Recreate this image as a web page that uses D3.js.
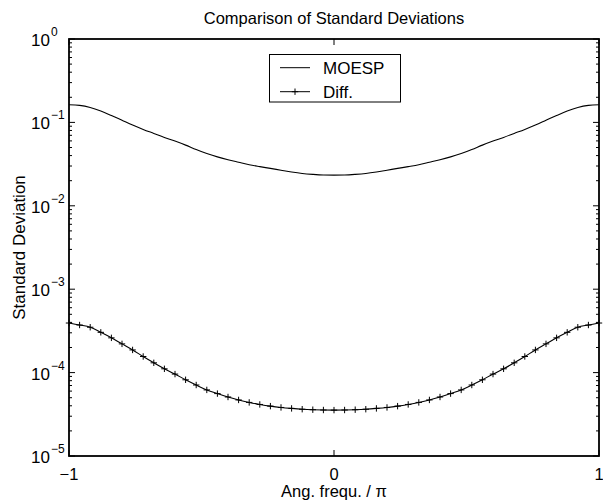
<!DOCTYPE html>
<html>
<head>
<meta charset="utf-8">
<script src="https://cdn.jsdelivr.net/npm/d3@7"></script>
<style>
  body { margin: 0; background: #fff; }
  text { font-family: "Liberation Sans", Arial, sans-serif; fill: #000; }
</style>
</head>
<body>
<div id="chart"></div>
<script>
// angular frequency / pi, 51 samples
const freq = [-1.00, -0.96, -0.92, -0.88, -0.84, -0.80, -0.76, -0.72, -0.68, -0.64,
              -0.60, -0.56, -0.52, -0.48, -0.44, -0.40, -0.36, -0.32, -0.28, -0.24,
              -0.20, -0.16, -0.12, -0.08, -0.04, 0.00, 0.04, 0.08, 0.12, 0.16,
              0.20, 0.24, 0.28, 0.32, 0.36, 0.40, 0.44, 0.48, 0.52, 0.56,
              0.60, 0.64, 0.68, 0.72, 0.76, 0.80, 0.84, 0.88, 0.92, 0.96, 1.00];

// MOESP standard deviation
const moesp = [0.163, 0.160, 0.151, 0.137, 0.121, 0.106, 0.0929, 0.0824, 0.0738, 0.0661,
               0.0597, 0.0534, 0.0472, 0.0424, 0.0386, 0.0357, 0.0333, 0.0311, 0.0295, 0.0281,
               0.0267, 0.0254, 0.0244, 0.0238, 0.0234, 0.0233, 0.0234, 0.0238, 0.0244, 0.0254,
               0.0267, 0.0281, 0.0295, 0.0311, 0.0333, 0.0357, 0.0386, 0.0424, 0.0472, 0.0534,
               0.0597, 0.0661, 0.0738, 0.0824, 0.0929, 0.106, 0.121, 0.137, 0.151, 0.160, 0.163];

// difference
const diff = [3.93e-4, 3.72e-4, 3.50e-4, 3.04e-4, 2.61e-4, 2.21e-4, 1.87e-4, 1.56e-4, 1.31e-4, 1.11e-4,
              9.6e-5, 8.2e-5, 7.1e-5, 6.2e-5, 5.6e-5, 5.1e-5, 4.7e-5, 4.39e-5, 4.15e-5, 3.96e-5,
              3.82e-5, 3.72e-5, 3.64e-5, 3.59e-5, 3.56e-5, 3.55e-5, 3.56e-5, 3.59e-5, 3.64e-5, 3.72e-5,
              3.82e-5, 3.96e-5, 4.15e-5, 4.39e-5, 4.7e-5, 5.1e-5, 5.6e-5, 6.2e-5, 7.1e-5, 8.2e-5,
              9.6e-5, 1.11e-4, 1.31e-4, 1.56e-4, 1.87e-4, 2.21e-4, 2.61e-4, 3.04e-4, 3.50e-4, 3.72e-4, 3.93e-4];

const xTicks = [-1, 0, 1];
const xTickLabels = ["\u22121", "0", "1"];
const yTicks = [1e-5, 1e-4, 1e-3, 1e-2, 1e-1, 1];
const yExponents = ["\u22125", "\u22124", "\u22123", "\u22122", "\u22121", "0"];
const legendNames = ["MOESP", "Diff."];

const width = 603, height = 501;
const margin = {top: 39, right: 4, bottom: 45, left: 69};

const svg = d3.create("svg")
    .attr("width", width)
    .attr("height", height)
    .attr("viewBox", [0, 0, width, height]);

const x = d3.scaleLinear().domain([-1, 1]).range([margin.left, width - margin.right]);
const y = d3.scaleLog().domain([1e-5, 1]).range([height - margin.bottom, margin.top]);

const x0 = x.range()[0], x1 = x.range()[1];
const y0 = y.range()[0], y1 = y.range()[1];

// minor + major ticks on left and right
const ticks = svg.append("g").attr("stroke", "#000").attr("stroke-width", 1);
y.ticks().forEach(t => {
    const major = Math.abs(Math.log10(t) - Math.round(Math.log10(t))) < 1e-9;
    const len = major ? 6 : 3;
    ticks.append("line").attr("x1", x0).attr("x2", x0 + len).attr("y1", y(t)).attr("y2", y(t));
    ticks.append("line").attr("x1", x1).attr("x2", x1 - len).attr("y1", y(t)).attr("y2", y(t));
});
xTicks.forEach(t => {
    ticks.append("line").attr("x1", x(t)).attr("x2", x(t)).attr("y1", y0).attr("y2", y0 - 6);
    ticks.append("line").attr("x1", x(t)).attr("x2", x(t)).attr("y1", y1).attr("y2", y1 + 6);
});

// curves
const line = d3.line()
    .x((d, i) => x(freq[i]))
    .y(d => y(d))
    .curve(d3.curveMonotoneX);

svg.append("path")
    .datum(moesp)
    .attr("fill", "none")
    .attr("stroke", "#000")
    .attr("stroke-width", 1.1)
    .attr("d", line);

svg.append("path")
    .datum(diff)
    .attr("fill", "none")
    .attr("stroke", "#000")
    .attr("stroke-width", 1.1)
    .attr("d", line);

const ms = 3.2;
svg.append("g")
    .attr("stroke", "#000")
    .attr("stroke-width", 1)
    .selectAll("path")
    .data(diff)
    .join("path")
    .attr("d", (d, i) => `M${x(freq[i]) - ms},${y(d)}H${x(freq[i]) + ms}M${x(freq[i])},${y(d) - ms}V${y(d) + ms}`);

// frame
svg.append("rect")
    .attr("x", x0).attr("y", y1)
    .attr("width", x1 - x0).attr("height", y0 - y1)
    .attr("fill", "none")
    .attr("stroke", "#000")
    .attr("stroke-width", 1.8);

// y tick labels: 10 with exponent
const yl = svg.append("g");
yTicks.forEach((t, i) => {
    yl.append("text")
        .attr("x", 50).attr("y", y(t) + 7)
        .attr("text-anchor", "end")
        .attr("font-size", 17)
        .text("10");
    yl.append("text")
        .attr("x", 51).attr("y", y(t) - 3)
        .attr("text-anchor", "start")
        .attr("font-size", 12)
        .text(yExponents[i]);
});

// x tick labels
xTicks.forEach((t, i) => {
    svg.append("text")
        .attr("x", x(t)).attr("y", y0 + 24)
        .attr("text-anchor", "middle")
        .attr("font-size", 16.5)
        .text(xTickLabels[i]);
});

// title and axis labels
svg.append("text")
    .attr("x", (x0 + x1) / 2).attr("y", 24)
    .attr("text-anchor", "middle")
    .attr("font-size", 16.5)
    .text("Comparison of Standard Deviations");

svg.append("text")
    .attr("x", (x0 + x1) / 2).attr("y", 497)
    .attr("text-anchor", "middle")
    .attr("font-size", 16.5)
    .text("Ang. frequ. / \u03c0");

svg.append("text")
    .attr("transform", `translate(25,${(y0 + y1) / 2}) rotate(-90)`)
    .attr("text-anchor", "middle")
    .attr("font-size", 17)
    .text("Standard Deviation");

// legend
const lg = svg.append("g");
lg.append("rect")
    .attr("x", 269.5).attr("y", 54.5)
    .attr("width", 131).attr("height", 47.5)
    .attr("fill", "#fff")
    .attr("stroke", "#000")
    .attr("stroke-width", 1);
legendNames.forEach((name, i) => {
    const cy = 67.7 + i * 24;
    lg.append("line")
        .attr("x1", 280).attr("x2", 310)
        .attr("y1", cy).attr("y2", cy)
        .attr("stroke", "#000").attr("stroke-width", 1);
    if (i === 1) {
        lg.append("path")
            .attr("d", `M${295 - ms},${cy}H${295 + ms}M295,${cy - ms}V${cy + ms}`)
            .attr("stroke", "#000").attr("stroke-width", 1);
    }
    lg.append("text")
        .attr("x", 323).attr("y", cy + 6)
        .attr("font-size", 17)
        .text(name);
});

document.getElementById("chart").appendChild(svg.node());
</script>
</body>
</html>
